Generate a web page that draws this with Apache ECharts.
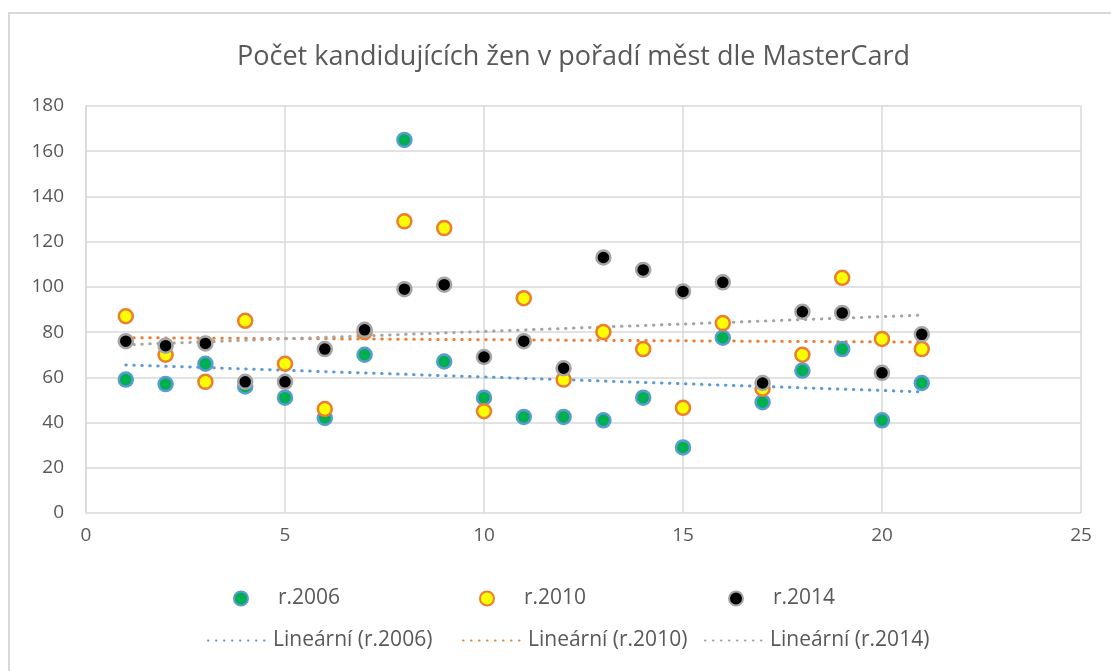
<!DOCTYPE html>
<html><head><meta charset="utf-8">
<script src="https://cdn.jsdelivr.net/npm/echarts@6/dist/echarts.min.js"></script>
<style>html,body{margin:0;padding:0;background:#fff}#c{width:1111px;height:671px}</style>
</head><body><div id="c"></div>
<script>
const xs = [1,2,3,4,5,6,7,8,9,10,11,12,13,14,15,16,17,18,19,20,21];
const y2006 = [59,57,66,56,51,42,70,165,67,51,42.5,42.5,41,51,29,77.5,49,63,72.5,41,57.5];
const y2010 = [87,70,58,85,66,46,80,129,126,45,95,59,80,72.5,46.5,84,55,70,104,77,72.5];
const y2014 = [76,74,75,58,58,72.5,81,99,101,69,76,64,113,107.5,98,102,57.5,89,88.5,62,79];
const names = ['r.2006','r.2010','r.2014'];
const trendNames = ['Lineární (r.2006)','Lineární (r.2010)','Lineární (r.2014)'];

function trend(x, y){
  const n=x.length; let sx=0,sy=0,sxy=0,sxx=0;
  for(let i=0;i<n;i++){sx+=x[i];sy+=y[i];sxy+=x[i]*y[i];sxx+=x[i]*x[i];}
  const b=(n*sxy-sx*sy)/(n*sxx-sx*sx), a=(sy-b*sx)/n;
  const x0=x[0], x1=x[n-1];
  return [[x0,a+b*x0],[x1,a+b*x1]];
}
const pts = (y)=>xs.map((x,i)=>[x,y[i]]);

const fills=['#00B050','#FFFF00','#000000'];
const borders=['#5B9BD5','#ED7D31','#A5A5A5'];
const ydata=[y2006,y2010,y2014];
const txt='#595959';
const font='"Open Sans", "Noto Sans", sans-serif';

const series=[];
for(let k=0;k<3;k++){
  series.push({name:names[k],type:'scatter',data:pts(ydata[k]),symbol:'circle',symbolSize:14,
    itemStyle:{color:fills[k],borderColor:borders[k],borderWidth:2.5,opacity:1},z:3+k});
}
for(let k=0;k<3;k++){
  series.push({name:trendNames[k],type:'line',data:trend(xs,ydata[k]),symbol:'none',
    lineStyle:{color:borders[k],width:3,type:[0.5,7.5],cap:'round'},itemStyle:{color:borders[k]},z:2});
}

const legendPos=[
  {name:names[0],left:233,top:588},{name:names[1],left:479,top:588},{name:names[2],left:728,top:588},
  {name:trendNames[0],left:207,top:630},{name:trendNames[1],left:462,top:630},{name:trendNames[2],left:704,top:630}
];
const legend=legendPos.map((p,i)=>({
  data:[i<3?{name:p.name,icon:'circle'}:{name:p.name}],
  left:p.left,top:p.top,
  itemWidth:i<3?14:60,itemHeight:i<3?14:20,itemGap:0,
  itemStyle:i<3?{opacity:1}:{opacity:0},
  textStyle:{color:txt,fontSize:21,fontFamily:font,padding:i<3?[0,0,0,25]:[0,0,0,0]},
  padding:0
}));
const chart=echarts.init(document.getElementById('c'));
chart.setOption({
  backgroundColor:'#fff',
  animation:false,
  title:{text:'Počet kandidujících žen v pořadí měst dle MasterCard',left:232,top:39,
    textStyle:{color:txt,fontSize:27,fontWeight:'normal',fontFamily:font}},
  graphic:[{type:'rect',shape:{x:9,y:13,width:1110,height:670},style:{fill:'none',stroke:'#D9D9D9',lineWidth:2},silent:true,z:-1}],
  grid:{left:86,right:30,top:106,bottom:158,containLabel:false},
  xAxis:{type:'value',min:0,max:25,interval:5,
    axisLine:{show:false},axisTick:{show:false},
    axisLabel:{color:txt,fontSize:19,fontFamily:font,margin:13},
    splitLine:{show:true,lineStyle:{color:'#D9D9D9',width:1.5}}},
  yAxis:{type:'value',min:0,max:180,interval:20,
    axisLine:{show:true,lineStyle:{color:'#D9D9D9',width:1.5}},axisTick:{show:false},
    axisLabel:{color:txt,fontSize:19,fontFamily:font,margin:22},
    splitLine:{show:true,lineStyle:{color:'#D9D9D9',width:1.5}}},
  legend:legend,
  series:series
});
</script></body></html>
